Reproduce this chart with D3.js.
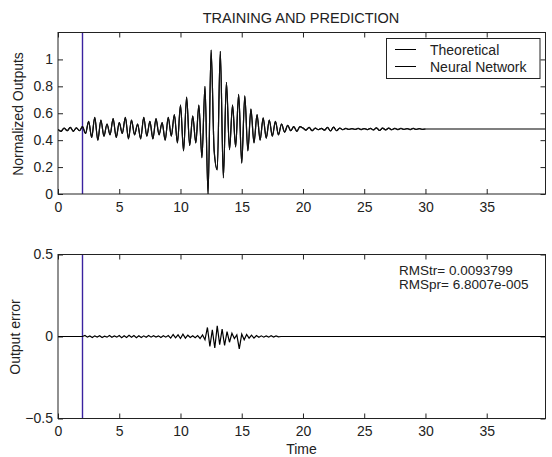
<!DOCTYPE html>
<html>
<head>
<meta charset="utf-8">
<script src="https://cdn.jsdelivr.net/npm/d3@7"></script>
<style>
  html, body { margin: 0; padding: 0; background: #fff; }
  svg { display: block; font-family: "Liberation Sans", Arial, Helvetica, sans-serif; }
  .tick text { font-size: 14px; fill: #222; }
  .tick line { stroke: #222; }
</style>
</head>
<body>
<svg id="chart" width="552" height="457"></svg>
<script>
// Sampling grids (time units)
const theoStep = 0.25;
const errStep = 0.2;
const timeEnd = 39.8;
const trainEnd = 2;

// Theoretical normalized output, sampled every 0.25 from t = 0 to t = 30
const theoretical = [
  0.480, 0.466, 0.490, 0.470, 0.495, 0.466, 0.492, 0.470,
  0.500, 0.450, 0.540, 0.420, 0.570, 0.400, 0.550, 0.430,
  0.520, 0.440, 0.560, 0.420, 0.530, 0.450, 0.570, 0.410,
  0.550, 0.440, 0.520, 0.410, 0.570, 0.430, 0.540, 0.410,
  0.560, 0.440, 0.530, 0.400, 0.570, 0.430, 0.590, 0.380,
  0.660, 0.320, 0.720, 0.360, 0.580, 0.380, 0.660, 0.270,
  0.800, 0.000, 1.070, 0.320, 0.180, 1.060, 0.120, 0.830,
  0.330, 0.660, 0.350, 0.740, 0.230, 0.730, 0.320, 0.630,
  0.380, 0.590, 0.400, 0.565, 0.415, 0.550, 0.430, 0.540,
  0.440, 0.520, 0.460, 0.510, 0.470, 0.500, 0.466, 0.500,
  0.490, 0.475, 0.495, 0.470, 0.490, 0.478, 0.488, 0.474,
  0.495, 0.468, 0.497, 0.470, 0.490, 0.478, 0.487, 0.480,
  0.486, 0.480, 0.487, 0.479, 0.486, 0.479, 0.488, 0.476,
  0.492, 0.472, 0.490, 0.476, 0.489, 0.478, 0.487, 0.479,
  0.487, 0.480, 0.486, 0.479, 0.487, 0.480, 0.486, 0.480,
  0.483
];

// Network output after the last theoretical sample
const predictionTailTimes = [30, 39.8];
const predictionTailValues = [0.483, 0.483];

// Output error, sampled every 0.2 from t = 0 to t = 18.2, then zero
const outputError = [
  0, 0, 0, 0, 0, 0, 0, 0, 0, 0, 0,
  0.006, -0.004, 0.003, -0.006, 0.004, -0.003, 0.005, -0.006, 0.002, -0.004,
  0.006, -0.005, 0.003, -0.004, 0.006, -0.007, 0.005, -0.006, 0.007, -0.005,
  0.006, -0.007, 0.005, -0.006, 0.004, -0.005, 0.006, -0.004, 0.005, -0.003,
  0.004, -0.006, 0.005, -0.004, 0.006, -0.010, 0.012, -0.008, 0.010, -0.012,
  0.014, -0.010, 0.008, -0.006, 0.005, -0.007, 0.006, -0.012, 0.010, -0.020,
  0.055, -0.060, 0.040, -0.070, 0.065, -0.050, 0.045, -0.055, 0.030, -0.035,
  0.020, -0.012, 0.010, -0.075, 0.015, -0.020, 0.012, -0.010, 0.008, -0.010,
  0.006, -0.005, 0.004, -0.004, 0.003, -0.004, 0.005, -0.003, 0.004, -0.002,
  0
];
const errorTailTimes = [18.2, 39.8];
const errorTailValues = [0, 0];

// Tick labels
const xTicks = [0, 5, 10, 15, 20, 25, 30, 35];
const yTicksTop = [0, 0.2, 0.4, 0.6, 0.8, 1];
const yTicksBottom = [-0.5, 0, 0.5];
const legendLabels = ["Theoretical", "Neural Network"];
const rmsLines = ["RMStr= 0.0093799", "RMSpr= 6.8007e-005"];

const svg = d3.select("#chart");
const left = 58, right = 545.5;
const ink = "#222";
const trainColor = "#3a22a0";

const theoPoints = theoretical.map((v, i) => [i * theoStep, v]);
const nnPoints = theoPoints.concat(predictionTailTimes.map((t, i) => [t, predictionTailValues[i]]));
const errPoints = outputError.map((v, i) => [i * errStep, v])
  .concat(errorTailTimes.map((t, i) => [t, errorTailValues[i]]));

function panel(id, top, bottom, yDomain, yTicks, yFmt) {
  const x = d3.scaleLinear().domain([0, timeEnd]).range([left, right]);
  const y = d3.scaleLinear().domain(yDomain).range([bottom, top]);
  const g = svg.append("g");

  g.append("clipPath").attr("id", id).append("rect")
    .attr("x", left).attr("y", top).attr("width", right - left).attr("height", bottom - top);

  // bottom axis with labels
  g.append("g").attr("transform", `translate(0,${bottom})`)
    .call(d3.axisBottom(x).tickValues(xTicks).tickFormat(d3.format("d"))
      .tickSizeInner(-5).tickSizeOuter(0).tickPadding(8))
    .call(a => a.select(".domain").remove());
  // top axis, ticks only
  g.append("g").attr("transform", `translate(0,${top})`)
    .call(d3.axisTop(x).tickValues(xTicks).tickFormat("").tickSizeInner(-5).tickSizeOuter(0))
    .call(a => a.select(".domain").remove());
  // left axis with labels
  g.append("g").attr("transform", `translate(${left},0)`)
    .call(d3.axisLeft(y).tickValues(yTicks).tickFormat(yFmt)
      .tickSizeInner(-5).tickSizeOuter(0).tickPadding(5))
    .call(a => a.select(".domain").remove());
  // right axis, ticks only
  g.append("g").attr("transform", `translate(${right},0)`)
    .call(d3.axisRight(y).tickValues(yTicks).tickFormat("").tickSizeInner(-5).tickSizeOuter(0))
    .call(a => a.select(".domain").remove());

  const plot = g.append("g").attr("clip-path", `url(#${id})`);

  g.append("rect")
    .attr("x", left).attr("y", top).attr("width", right - left).attr("height", bottom - top)
    .attr("fill", "none").attr("stroke", ink).attr("stroke-width", 1);

  // end of training window
  plot.append("line")
    .attr("x1", x(trainEnd)).attr("x2", x(trainEnd))
    .attr("y1", top).attr("y2", bottom)
    .attr("stroke", trainColor).attr("stroke-width", 1.4);

  return { x, y, plot };
}

// Upper panel: outputs
const p1 = panel("clipTop", 32.5, 194, [0, 1.2], yTicksTop, d3.format("~g"));
const line1 = d3.line().curve(d3.curveMonotoneX).x(d => p1.x(d[0])).y(d => p1.y(d[1]));
p1.plot.append("path").datum(nnPoints).attr("d", line1)
  .attr("fill", "none").attr("stroke", "#000").attr("stroke-width", 1.2);
p1.plot.append("path").datum(theoPoints).attr("d", line1)
  .attr("fill", "none").attr("stroke", "#111").attr("stroke-width", 1.2);

// Lower panel: error
const p2 = panel("clipBottom", 254.5, 418.5, [-0.5, 0.5], yTicksBottom, d3.format("~g"));
const line2 = d3.line().x(d => p2.x(d[0])).y(d => p2.y(d[1]));
p2.plot.append("path").datum(errPoints).attr("d", line2)
  .attr("fill", "none").attr("stroke", "#000").attr("stroke-width", 1.2);

// Legend
const lg = svg.append("g");
lg.append("rect").attr("x", 386.5).attr("y", 38.5).attr("width", 153.5).attr("height", 40)
  .attr("fill", "#fff").attr("stroke", ink).attr("stroke-width", 1);
legendLabels.forEach((label, i) => {
  const yy = 49.5 + i * 17;
  lg.append("line").attr("x1", 395).attr("x2", 416).attr("y1", yy).attr("y2", yy)
    .attr("stroke", "#000").attr("stroke-width", 1);
  lg.append("text").attr("x", 430).attr("y", yy).attr("dominant-baseline", "central")
    .attr("font-size", 14).attr("fill", ink).text(label);
});

// RMS annotations
rmsLines.forEach((t, i) => {
  svg.append("text").attr("x", 399).attr("y", 270 + i * 14)
    .attr("dominant-baseline", "central").attr("font-size", 13.5).attr("fill", ink).text(t);
});

// Titles and axis labels
svg.append("text").attr("x", 301).attr("y", 17.5).attr("text-anchor", "middle")
  .attr("dominant-baseline", "central").attr("font-size", 14.5).attr("fill", ink)
  .text("TRAINING AND PREDICTION");
svg.append("text").attr("transform", "translate(18,114) rotate(-90)")
  .attr("text-anchor", "middle").attr("dominant-baseline", "central")
  .attr("font-size", 14).attr("fill", ink).text("Normalized Outputs");
svg.append("text").attr("transform", "translate(15,337) rotate(-90)")
  .attr("text-anchor", "middle").attr("dominant-baseline", "central")
  .attr("font-size", 14).attr("fill", ink).text("Output error");
svg.append("text").attr("x", 301.5).attr("y", 449).attr("text-anchor", "middle")
  .attr("dominant-baseline", "central").attr("font-size", 14).attr("fill", ink).text("Time");
</script>
</body>
</html>
